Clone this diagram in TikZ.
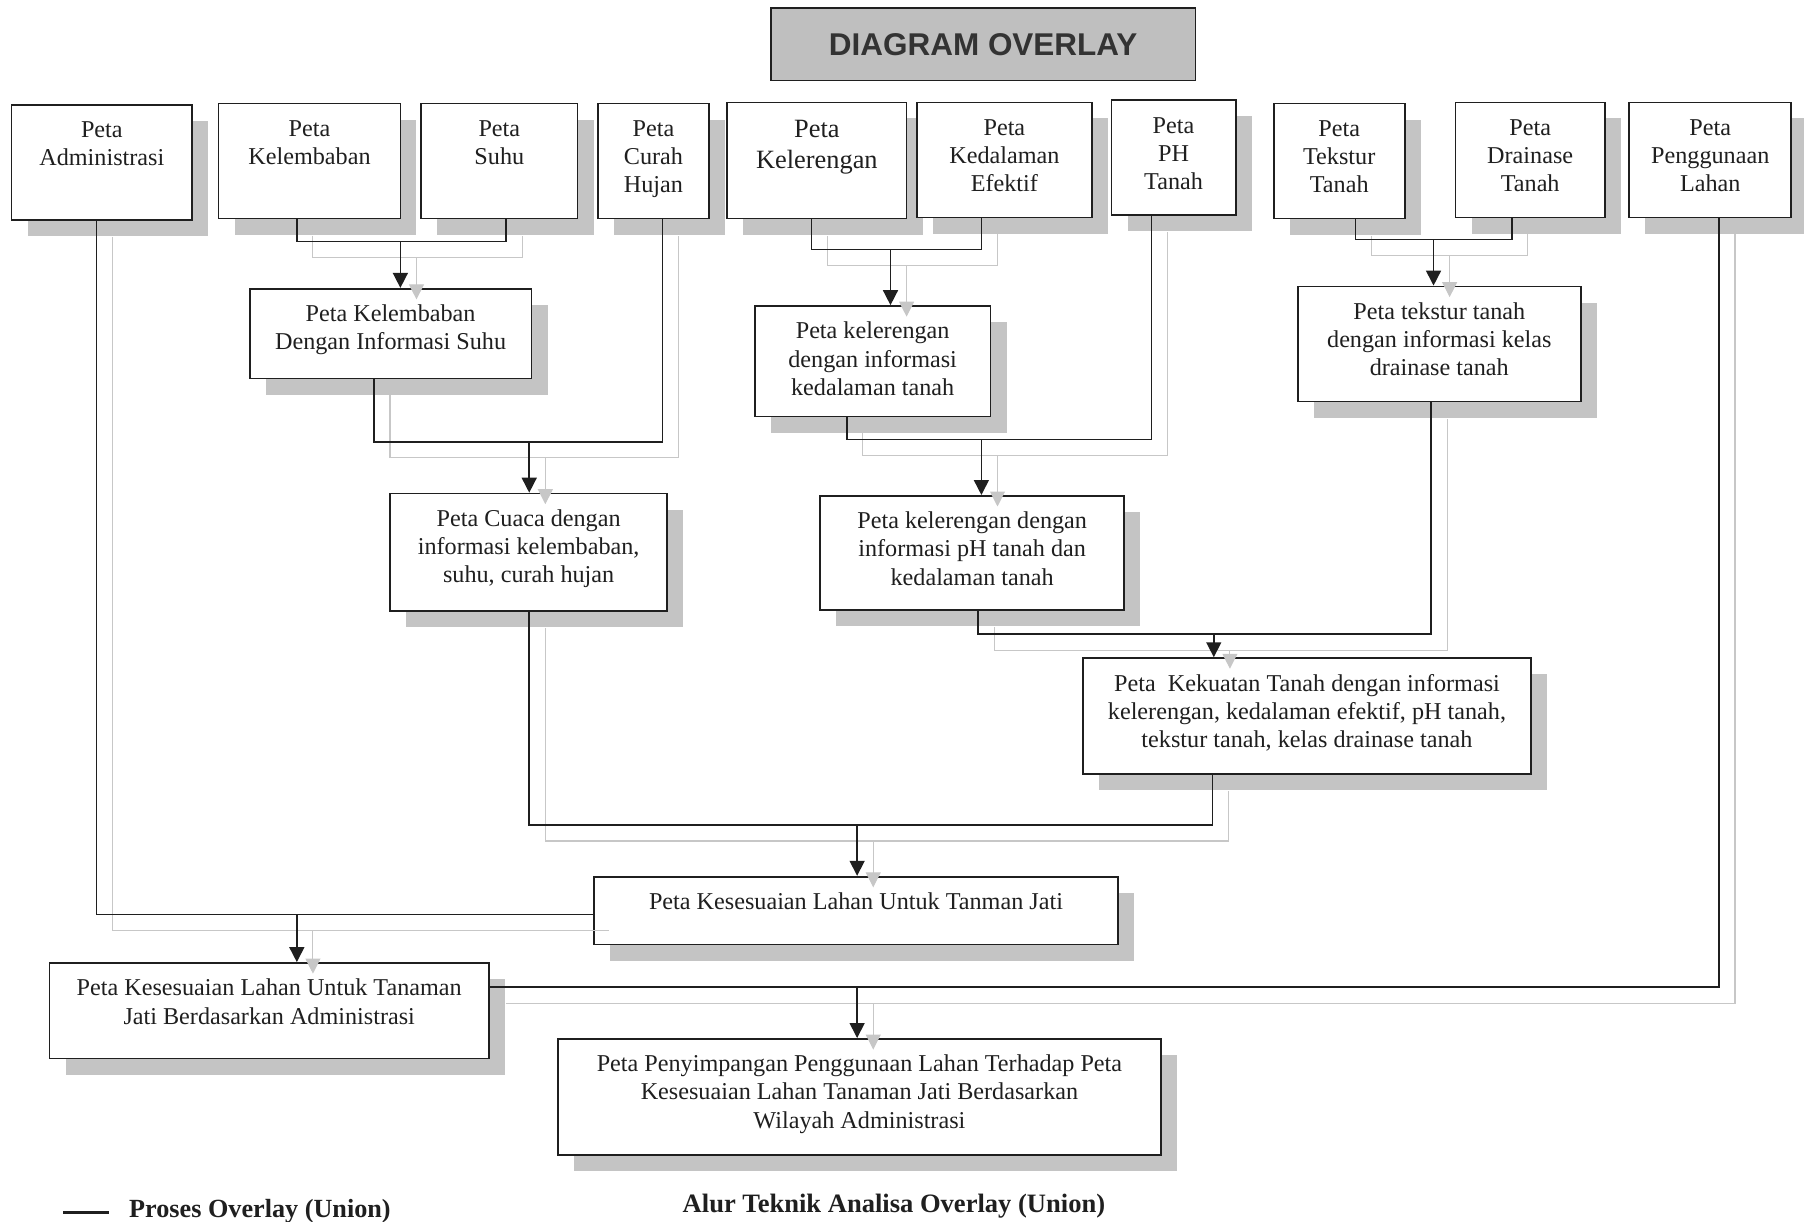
\documentclass[tikz,border=0pt]{standalone}
\usepackage{fontspec}
\setmainfont{Liberation Serif}
\newfontfamily\headfont{Liberation Sans}
\usetikzlibrary{arrows.meta,calc}

\definecolor{shadowgray}{gray}{0.77}
\definecolor{titlegray}{gray}{0.75}
\definecolor{echogray}{gray}{0.78}
\definecolor{inkdark}{gray}{0.12}
\def\mapunit{0.023cm}

\tikzset{
  mapframe/.style={draw=inkdark, line width=1pt, fill=white, inner sep=0pt, rectangle},
  maptext/.style={anchor=north, inner sep=0pt, align=center, text=inkdark,
                  font=\fontsize{13.75}{16}\selectfont},
  flow/.style={draw=inkdark, line width=0.9pt},
  flowarrow/.style={flow, -{Triangle[length=8.5pt,width=8.5pt]}},
  echo/.style={draw=echogray, line width=0.6pt},
  echoarrow/.style={echo, -{Triangle[length=8.5pt,width=8.5pt]}},
}

% #1 extra text style, #2 name, #3 #4 top-left, #5 #6 bottom-right, #7 text
\newcommand\mapbox[7][]{%
  \fill[shadowgray] ({#3+14},{#4+14}) rectangle ({#5+14},{#6+14});
  \node[mapframe, minimum width={(#5-#3)*\mapunit}, minimum height={(#6-#4)*\mapunit}]
       (#2) at ({(#3+#5)/2},{(#4+#6)/2}) {};
  \node[maptext,#1] (#2-t) at ({(#3+#5)/2},{#4+11.2}) {\strut #7};
}

\begin{document}
\begin{tikzpicture}[x=0.023cm, y=-0.023cm]
\useasboundingbox (0,0) rectangle (1568,1062);

% title
\node[draw=inkdark, line width=1pt, fill=titlegray, inner sep=0pt,
      minimum width={369*\mapunit}, minimum height={63*\mapunit},
      text=black!80, font=\headfont\bfseries\fontsize{17.9}{21}\selectfont]
     (title) at (854.5,38.5) {DIAGRAM OVERLAY};

% source maps
\mapbox{adm}{10}{91}{167}{191}{Peta\\Administrasi}
\mapbox{kel}{190}{90}{348}{190}{Peta\\Kelembaban}
\mapbox{suhu}{366}{90}{502}{190}{Peta\\Suhu}
\mapbox{curah}{520}{90}{616}{190}{Peta\\Curah\\Hujan}
\mapbox[font=\fontsize{15}{17.6}\selectfont]{lereng}{632}{89}{788}{190}{Peta\\Kelerengan}
\mapbox{dalam}{797}{89}{949}{189}{Peta\\Kedalaman\\Efektif}
\mapbox{ph}{966}{87}{1074}{187}{Peta\\PH\\Tanah}
\mapbox{tekstur}{1107}{90}{1221}{190}{Peta\\Tekstur\\Tanah}
\mapbox{drain}{1265}{89}{1395}{189}{Peta\\Drainase\\Tanah}
\mapbox{guna}{1416}{89}{1557}{189}{Peta\\Penggunaan\\Lahan}

% overlay results
\mapbox{kelsuhu}{217}{251}{462}{329}{Peta Kelembaban\\Dengan Informasi Suhu}
\mapbox{lerdalam}{656}{266}{861}{362}{Peta kelerengan\\dengan informasi\\kedalaman tanah}
\mapbox{teksdrain}{1128}{249}{1374}{349}{Peta tekstur tanah\\dengan informasi kelas\\drainase tanah}
\mapbox{cuaca}{339}{429}{580}{531}{Peta Cuaca dengan\\informasi kelembaban,\\suhu, curah hujan}
\mapbox{lerph}{713}{431}{977}{530}{Peta kelerengan dengan\\informasi pH tanah dan\\kedalaman tanah}
\mapbox{kuat}{941}{572}{1331}{673}{Peta\ \ Kekuatan Tanah dengan informasi\\kelerengan, kedalaman efektif, pH tanah,\\tekstur tanah, kelas drainase tanah}
\mapbox{sesuai}{516}{762}{972}{821}{Peta Kesesuaian Lahan Untuk Tanman Jati}
\mapbox{sesadm}{43}{837}{425}{920}{Peta Kesesuaian Lahan Untuk Tanaman\\Jati Berdasarkan Administrasi}
\mapbox{simpang}{485}{903}{1009}{1004}{Peta Penyimpangan Penggunaan Lahan Terhadap Peta\\Kesesuaian Lahan Tanaman Jati Berdasarkan\\Wilayah Administrasi}

% junction points
\coordinate (jA) at (348,210);
\coordinate (jB) at (774,217);
\coordinate (jC) at (1246,208);
\coordinate (jD) at (460,384);
\coordinate (jE) at (853,382);
\coordinate (jF) at (1055,551);
\coordinate (jG) at (745,717);
\coordinate (jH) at (258,795);
\coordinate (jI) at (745,858);

% light echo of every connector
\draw[echo] ($(kel.south)+(3,14)$) |- ($(jA)+(14,14)$) -| ($(suhu.south)+(20,14)$);
\draw[echoarrow] ($(jA)+(14,14)$) -- ($(kelsuhu.north -| jA)+(14,10)$);
\draw[echo] ($(lereng.south)+(9.5,14)$) |- ($(jB)+(14,14)$) -| ($(dalam.south)+(-6,14)$);
\draw[echoarrow] ($(jB)+(14,14)$) -- ($(lerdalam.north -| jB)+(14,10)$);
\draw[echo] ($(tekstur.south)+(28,14)$) |- ($(jC)+(14,14)$) -| ($(drain.south)+(-2,14)$);
\draw[echoarrow] ($(jC)+(14,14)$) -- ($(teksdrain.north -| jC)+(14,10)$);
\draw[echo] ($(kelsuhu.south)+(-0.5,14)$) |- ($(jD)+(14,14)$) -| ($(curah.south)+(22,14)$);
\draw[echoarrow] ($(jD)+(14,14)$) -- ($(cuaca.north -| jD)+(14,10)$);
\draw[echo] ($(lerdalam.south)+(-8.5,14)$) |- ($(jE)+(14,14)$) -| ($(ph.south)+(-5,14)$);
\draw[echoarrow] ($(jE)+(14,14)$) -- ($(lerph.north -| jE)+(14,10)$);
\draw[echo] ($(lerph.south)+(19,14)$) |- ($(jF)+(14,14)$) -| ($(teksdrain.south)+(7,14)$);
\draw[echoarrow] ($(jF)+(14,14)$) -- ($(kuat.north -| jF)+(14,10)$);
\draw[echo] ($(cuaca.south)+(14.5,14)$) |- ($(jG)+(14,14)$) -| ($(kuat.south)+(-68,14)$);
\draw[echoarrow] ($(jG)+(14,14)$) -- ($(sesuai.north -| jG)+(14,10)$);
\draw[echo] ($(adm.south)+(9.5,14)$) |- ($(sesuai.west)+(14,17.5)$);
\draw[echoarrow] ($(jH)+(14,14)$) -- ($(sesadm.north -| jH)+(14,10)$);
\draw[echo] ($(sesadm.east)+(14,-6.5)$) -| ($(guna.south)+(21.5,14)$);
\draw[echoarrow] ($(jI)+(14,14)$) -- ($(simpang.north -| jI)+(14,10)$);

% overlay connectors
\draw[flow] ($(kel.south)+(-11,0)$) |- (jA) -| ($(suhu.south)+(6,0)$);
\draw[flowarrow] (jA) -- (kelsuhu.north -| jA);
\draw[flow] ($(lereng.south)+(-4.5,0)$) |- (jB) -| ($(dalam.south)+(-20,0)$);
\draw[flowarrow] (jB) -- (lerdalam.north -| jB);
\draw[flow] ($(tekstur.south)+(14,0)$) |- (jC) -| ($(drain.south)+(-16,0)$);
\draw[flowarrow] (jC) -- (teksdrain.north -| jC);
\draw[flow] ($(kelsuhu.south)+(-14.5,0)$) |- (jD) -| ($(curah.south)+(8,0)$);
\draw[flowarrow] (jD) -- (cuaca.north -| jD);
\draw[flow] ($(lerdalam.south)+(-22.5,0)$) |- (jE) -| ($(ph.south)+(-19,0)$);
\draw[flowarrow] (jE) -- (lerph.north -| jE);
\draw[flow] ($(lerph.south)+(5,0)$) |- (jF) -| ($(teksdrain.south)+(-7,0)$);
\draw[flowarrow] (jF) -- (kuat.north -| jF);
\draw[flow] ($(cuaca.south)+(0.5,0)$) |- (jG) -| ($(kuat.south)+(-82,0)$);
\draw[flowarrow] (jG) -- (sesuai.north -| jG);
\draw[flow] ($(adm.south)+(-4.5,0)$) |- ($(sesuai.west)+(0,3.5)$);
\draw[flowarrow] (jH) -- (sesadm.north -| jH);
\draw[flow] ($(sesadm.east)+(0,-20.5)$) -| ($(guna.south)+(7.5,0)$);
\draw[flowarrow] (jI) -- (simpang.north -| jI);

% legend and caption
\coordinate (legA) at (55,1054);
\coordinate (legB) at (95,1054);
\draw[flow, line width=1.4pt] (legA) -- (legB);
\node[anchor=base west, inner sep=0pt, text=inkdark, font=\bfseries\fontsize{14.9}{17}\selectfont]
     (legtext) at (112,1058) {Proses Overlay (Union)};
\node[anchor=base, inner sep=0pt, text=inkdark, font=\bfseries\fontsize{15.1}{17}\selectfont]
     (caption) at (777,1054) {Alur Teknik Analisa Overlay (Union)};
\end{tikzpicture}
\end{document}
